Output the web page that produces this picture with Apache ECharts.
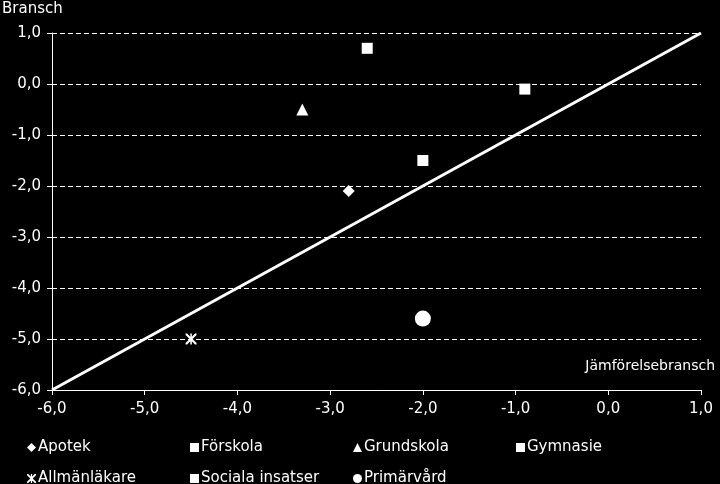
<!DOCTYPE html>
<html>
<head>
<meta charset="utf-8">
<script src="https://cdn.jsdelivr.net/npm/echarts@6/dist/echarts.min.js"></script>
<style>
html,body{margin:0;padding:0;background:#000;}
#chart{width:720px;height:484px;}
</style>
</head>
<body>
<div id="chart"></div>
<script>
// Data
const seriesNames = ["Apotek", "Förskola", "Grundskola", "Gymnasie", "Allmänläkare", "Sociala insatser", "Primärvård"];
const xValues = [-2.8, -2.6, -3.3, -0.9, -4.5, -2.0, -2.0];
const yValues = [-2.1, 0.7, -0.5, -0.1, -5.0, -1.5, -4.6];
const diagonalLine = [[-6, -6], [1, 1]];
const axisMin = -6, axisMax = 1, axisStep = 1;
const xAxisTitle = "Jämförelsebransch";
const yAxisTitle = "Bransch";

const starPath = 'path://M0,0 L1.4,0 L5,3.6 L8.6,0 L10,0 L10,1.4 L6.4,5 L10,8.6 L10,10 L8.6,10 L5,6.4 L1.4,10 L0,10 L0,8.6 L3.6,5 L0,1.4 Z M4.3,0 L5.7,0 L5.7,10 L4.3,10 Z';
const symbols = ['diamond', 'rect', 'triangle', 'rect', starPath, 'rect', 'circle'];
const sizes = [12, 11, 12, 11, 11, 11, 16];
const legendIcons = ['diamond', 'rect', 'triangle', 'rect', starPath, 'rect', 'circle'];

const font = '"DejaVu Sans", Verdana, sans-serif';
const fmt = v => v.toFixed(1).replace('.', ',');

const legends = seriesNames.map((n, i) => ({
  data: [{name: n, icon: legendIcons[i]}],
  left: 27 + (i % 4) * 163,
  top: i < 4 ? 440 : 471,
  itemWidth: 9,
  itemHeight: 9,
  itemGap: 0,
  padding: 0,
  textStyle: {color: '#fff', fontSize: 15, fontFamily: font, padding: [0, 0, 0, -3]},
  selectedMode: false
}));

const series = seriesNames.map((n, i) => ({
  name: n,
  type: 'scatter',
  symbol: symbols[i],
  symbolSize: sizes[i],
  itemStyle: {color: '#fff', opacity: 1},
  data: [[xValues[i], yValues[i]]],
  z: 5
}));
series.push({
  name: 'diagonal',
  type: 'line',
  data: diagonalLine,
  showSymbol: false,
  symbol: 'none',
  lineStyle: {color: '#fff', width: 3},
  silent: true,
  z: 3
});

const chart = echarts.init(document.getElementById('chart'), null, {renderer: 'canvas'});
chart.setOption({
  backgroundColor: '#000',
  animation: false,
  textStyle: {fontFamily: font},
  grid: {left: 52, right: 19, top: 33, bottom: 94, containLabel: false},
  legend: legends,
  xAxis: {
    type: 'value', min: axisMin, max: axisMax, interval: axisStep,
    axisLine: {show: true, onZero: false, lineStyle: {color: '#fff', width: 1}},
    axisTick: {show: true, length: 5, lineStyle: {color: '#fff'}},
    axisLabel: {color: '#fff', fontSize: 15, fontFamily: font, margin: 12, formatter: fmt},
    splitLine: {show: false}
  },
  yAxis: {
    type: 'value', min: axisMin, max: axisMax, interval: axisStep,
    axisLine: {show: true, onZero: false, lineStyle: {color: '#fff', width: 1}},
    axisTick: {show: true, length: 5, lineStyle: {color: '#fff'}},
    axisLabel: {color: '#fff', fontSize: 15, fontFamily: font, margin: 11, formatter: fmt},
    splitLine: {show: true, lineStyle: {color: '#fff', type: [5, 3], width: 1}}
  },
  graphic: [
    {type: 'text', left: 2, top: 2, style: {text: yAxisTitle, fill: '#fff', font: '15px ' + font}},
    {type: 'text', right: 5, top: 359, style: {text: xAxisTitle, fill: '#fff', font: '14px ' + font}}
  ],
  series: series
});
</script>
</body>
</html>
